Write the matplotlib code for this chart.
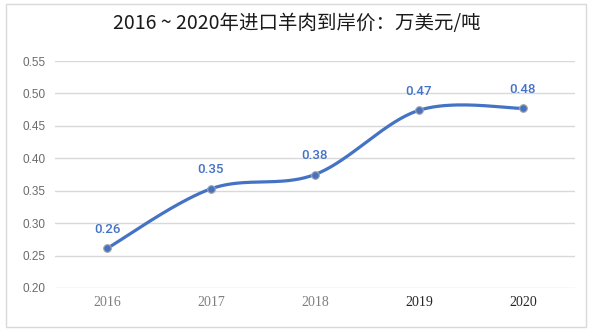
import numpy as np
import matplotlib
matplotlib.use("Agg")
import matplotlib.pyplot as plt
from matplotlib.patches import Rectangle

plt.rcParams['font.family'] = ['Noto Sans CJK SC', 'DejaVu Sans']

years = ['2016', '2017', '2018', '2019', '2020']
price = [0.261, 0.353, 0.375, 0.474, 0.477]
labels = ['0.26', '0.35', '0.38', '0.47', '0.48']
title = '2016 ~ 2020年进口羊肉到岸价：万美元/吨'

blue = '#4472C4'

# excel-like smoothing: catmull-rom through the points
def smooth(x, y, n=40):
    px = np.concatenate([[x[0]], x, [x[-1]]])
    py = np.concatenate([[y[0]], y, [y[-1]]])
    xs, ys = [], []
    t = np.linspace(0, 1, n)
    for i in range(1, len(px) - 2):
        p0 = np.array([px[i], py[i]])
        p3 = np.array([px[i + 1], py[i + 1]])
        c1 = p0 + (np.array([px[i + 1], py[i + 1]]) - np.array([px[i - 1], py[i - 1]])) / 6
        c2 = p3 - (np.array([px[i + 2], py[i + 2]]) - p0) / 6
        b = ((1 - t) ** 3)[:, None] * p0 + (3 * (1 - t) ** 2 * t)[:, None] * c1 \
            + (3 * (1 - t) * t ** 2)[:, None] * c2 + (t ** 3)[:, None] * p3
        xs.extend(b[:, 0]); ys.extend(b[:, 1])
    return np.array(xs), np.array(ys)

x = np.arange(len(years))
sx, sy = smooth(x.astype(float), np.array(price))

fig = plt.figure(figsize=(5.93, 3.35), dpi=100)
fig.patches.append(Rectangle((6 / 593, 1 - 327 / 335), 580 / 593, 323 / 335,
                             transform=fig.transFigure, fill=False,
                             edgecolor='#D9D9D9', linewidth=1))
ax = fig.add_axes([55 / 593, 1 - 288 / 335, 520 / 593, 227 / 335])

ax.plot(sx, sy, color=blue, linewidth=2.3, zorder=3, solid_capstyle='round')
ax.plot(x, price, 'o', color=blue, markersize=5.5, markeredgecolor='#A6A6A6',
        markeredgewidth=0.8, zorder=4)
for xi, yi, lb in zip(x, price, labels):
    ax.annotate(lb, (xi, yi), xytext=(0, 9), textcoords='offset points',
                ha='center', va='bottom', color=blue, fontsize=9.5,
                family='Roboto', fontweight='medium')

ax.set_xlim(-0.5, len(years) - 0.5)
ax.set_ylim(0.20, 0.55)
ax.set_yticks(np.arange(0.20, 0.551, 0.05))
ax.set_yticklabels([f'{v:.2f}' for v in np.arange(0.20, 0.551, 0.05)],
                   color='#6b6b6b', fontsize=8.5, family='Liberation Sans')
ax.set_xticks(x)
ax.set_xticklabels(years, fontsize=10, family='Liberation Serif')
for tl, c in zip(ax.get_xticklabels(), ['#7F7F7F', '#7F7F7F', '#7F7F7F', '#262626', '#262626']):
    tl.set_color(c)
ax.tick_params(axis='both', length=0)
ax.tick_params(axis='y', pad=7)
ax.tick_params(axis='x', pad=6)
ax.grid(axis='y', color='#D9D9D9', linewidth=1)
ax.set_axisbelow(True)
for s in ax.spines.values():
    s.set_visible(False)

fig.text(297 / 593, 1 - 24 / 335, title, ha='center', va='center',
         fontsize=14, color='#1a1a1a')

fig.savefig('out.png', dpi=100)
